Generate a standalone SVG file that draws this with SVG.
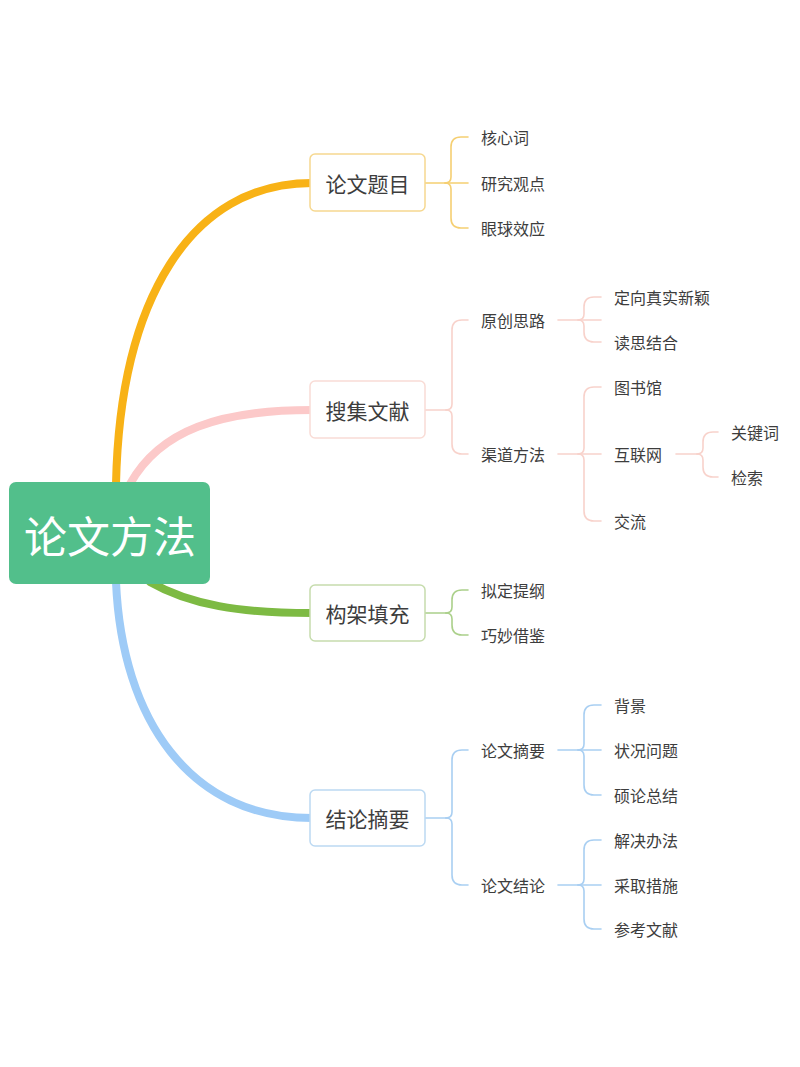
<svg xmlns="http://www.w3.org/2000/svg" width="800" height="1067" viewBox="0 0 800 1067">
<style>
text{font-family:"Noto Sans CJK SC","Noto Sans",sans-serif;fill:#3d3d3d;dominant-baseline:central}
.t1{font-size:21px;text-anchor:middle}
.t2{font-size:16px}
.root{font-size:43px;fill:#ffffff;text-anchor:middle}
.main{fill:none;stroke-width:8;stroke-linecap:round}
.thin{fill:none;stroke-width:1.6;stroke-linecap:round}
.y{stroke:#f5cf72}.p{stroke:#f8d2cb}.g{stroke:#abd08a}.b{stroke:#a9cff2}
</style>
<rect width="800" height="1067" fill="#ffffff"/>
<g id="connectors">
<path class="main" stroke="#f8b216" d="M116 484 C120 300 190 183 312 183"/>
<path class="main" stroke="#fcc9c9" d="M130 484 C160 430 220 410 312 410"/>
<path class="main" stroke="#7dba43" d="M150 582 C190 605 240 613 312 613"/>
<path class="main" stroke="#9ecbf7" d="M116 582 C122 720 190 818 312 818"/>
<!-- 论文题目 -->
<path class="thin y" d="M425 183 H468"/>
<path class="thin y" d="M445 183 Q451 183 451 177 V147 Q451 137 461 137 H468"/>
<path class="thin y" d="M445 183 Q451 183 451 189 V218 Q451 228 461 228 H468"/>
<!-- 搜集文献 -->
<path class="thin p" d="M425 410 H446"/>
<path class="thin p" d="M446 410 Q452 410 452 404 V330 Q452 320 462 320 H468"/>
<path class="thin p" d="M446 410 Q452 410 452 416 V444 Q452 454 462 454 H468"/>
<path class="thin p" d="M558 320 H601"/>
<path class="thin p" d="M578 320 Q584 320 584 314 V307 Q584 297 594 297 H601"/>
<path class="thin p" d="M578 320 Q584 320 584 326 V332 Q584 342 594 342 H601"/>
<path class="thin p" d="M558 454 H601"/>
<path class="thin p" d="M578 454 Q584 454 584 448 V397 Q584 387 594 387 H601"/>
<path class="thin p" d="M578 454 Q584 454 584 460 V511 Q584 521 594 521 H601"/>
<path class="thin p" d="M676 454 H697"/>
<path class="thin p" d="M697 454 Q703 454 703 448 V442 Q703 432 713 432 H718"/>
<path class="thin p" d="M697 454 Q703 454 703 460 V467 Q703 477 713 477 H718"/>
<!-- 构架填充 -->
<path class="thin g" d="M425 613 H446"/>
<path class="thin g" d="M446 613 Q452 613 452 607 V600 Q452 590 462 590 H468"/>
<path class="thin g" d="M446 613 Q452 613 452 619 V625 Q452 635 462 635 H468"/>
<!-- 结论摘要 -->
<path class="thin b" d="M425 818 H446"/>
<path class="thin b" d="M446 818 Q452 818 452 812 V760 Q452 750 462 750 H468"/>
<path class="thin b" d="M446 818 Q452 818 452 824 V875 Q452 885 462 885 H468"/>
<path class="thin b" d="M558 750 H601"/>
<path class="thin b" d="M578 750 Q584 750 584 744 V715 Q584 705 594 705 H601"/>
<path class="thin b" d="M578 750 Q584 750 584 756 V785 Q584 795 594 795 H601"/>
<path class="thin b" d="M558 885 H601"/>
<path class="thin b" d="M578 885 Q584 885 584 879 V850 Q584 840 594 840 H601"/>
<path class="thin b" d="M578 885 Q584 885 584 891 V919 Q584 929 594 929 H601"/>
</g>
<g id="root">
<rect x="9" y="482" width="201" height="102" rx="7" fill="#52bf8b"/>
<text class="root" x="110" y="534">论文方法</text>
</g>
<g id="n-timu">
<rect x="310" y="154" width="115" height="57" rx="5" fill="#fff" stroke="#f6d890" stroke-width="1.5"/>
<text class="t1" x="367.5" y="182.5">论文题目</text>
</g>
<g id="n-hexinci"><text class="t2" x="481" y="137">核心词</text></g>
<g id="n-yanjiu"><text class="t2" x="481" y="183">研究观点</text></g>
<g id="n-yanqiu"><text class="t2" x="481" y="228">眼球效应</text></g>
<g id="n-souji">
<rect x="310" y="381" width="115" height="57" rx="5" fill="#fff" stroke="#f9dcd6" stroke-width="1.5"/>
<text class="t1" x="367.5" y="409.5">搜集文献</text>
</g>
<g id="n-yuanchuang"><text class="t2" x="481" y="320">原创思路</text></g>
<g id="n-dingxiang"><text class="t2" x="614" y="297">定向真实新颖</text></g>
<g id="n-dusi"><text class="t2" x="614" y="342">读思结合</text></g>
<g id="n-qudao"><text class="t2" x="481" y="454">渠道方法</text></g>
<g id="n-tushuguan"><text class="t2" x="614" y="387">图书馆</text></g>
<g id="n-hulianwang"><text class="t2" x="614" y="454">互联网</text></g>
<g id="n-guanjianci"><text class="t2" x="731" y="432">关键词</text></g>
<g id="n-jiansuo"><text class="t2" x="731" y="477">检索</text></g>
<g id="n-jiaoliu"><text class="t2" x="614" y="521">交流</text></g>
<g id="n-goujia">
<rect x="310" y="585" width="115" height="56" rx="5" fill="#fff" stroke="#c6dcad" stroke-width="1.5"/>
<text class="t1" x="367.5" y="612.5">构架填充</text>
</g>
<g id="n-niding"><text class="t2" x="481" y="590">拟定提纲</text></g>
<g id="n-qiaomiao"><text class="t2" x="481" y="635">巧妙借鉴</text></g>
<g id="n-jielun">
<rect x="310" y="790" width="115" height="56" rx="5" fill="#fff" stroke="#bcd9f2" stroke-width="1.5"/>
<text class="t1" x="367.5" y="817.5">结论摘要</text>
</g>
<g id="n-zhaiyao"><text class="t2" x="481" y="750">论文摘要</text></g>
<g id="n-beijing"><text class="t2" x="614" y="705">背景</text></g>
<g id="n-zhuangkuang"><text class="t2" x="614" y="750">状况问题</text></g>
<g id="n-shuolun"><text class="t2" x="614" y="795">硕论总结</text></g>
<g id="n-lunwenjielun"><text class="t2" x="481" y="885">论文结论</text></g>
<g id="n-jiejue"><text class="t2" x="614" y="840">解决办法</text></g>
<g id="n-caiqu"><text class="t2" x="614" y="885">采取措施</text></g>
<g id="n-cankao"><text class="t2" x="614" y="929">参考文献</text></g>
</svg>
